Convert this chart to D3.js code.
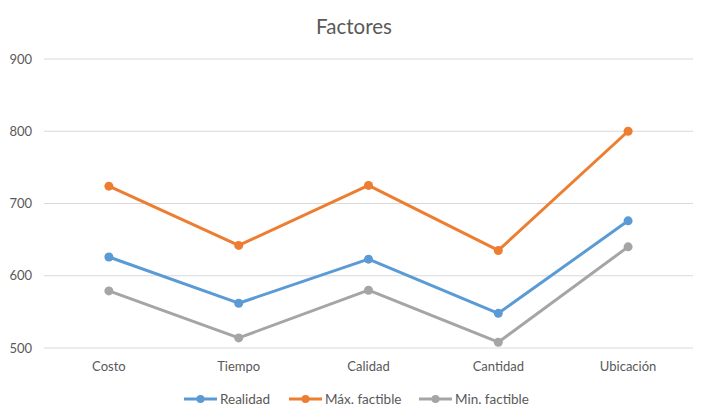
<!DOCTYPE html>
<html>
<head>
<meta charset="utf-8">
<script src="https://cdn.jsdelivr.net/npm/d3@7"></script>
<style>
  body { margin: 0; background: #fff; }
  svg { font-family: Lato, "Open Sans", sans-serif; }
</style>
</head>
<body>
<div id="chart"></div>
<script>
// data
const categories = ["Costo", "Tiempo", "Calidad", "Cantidad", "Ubicación"];
const realidad = [626, 562, 623, 548, 676];
const maxFactible = [724, 642, 725, 635, 800];
const minFactible = [579, 514, 580, 508, 640];
const yTicks = [500, 600, 700, 800, 900];

const series = [
    { name: "Realidad", values: realidad, color: "#5B9BD5" },
    { name: "Máx. factible", values: maxFactible, color: "#ED7D31" },
    { name: "Min. factible", values: minFactible, color: "#A5A5A5" }
];

const W = 708, H = 420;
const margin = { top: 59, right: 15, bottom: 72, left: 44 };
const width = W - margin.left - margin.right;
const height = H - margin.top - margin.bottom;

const root = d3.select("#chart").append("svg")
    .attr("width", W)
    .attr("height", H);

const svg = root.append("g")
    .attr("transform", `translate(${margin.left},${margin.top})`);

// scales
const x = d3.scaleBand().domain(categories).range([0, width]);
const y = d3.scaleLinear().domain([500, 900]).range([height, 0]);

// gridlines
svg.selectAll(".grid")
    .data(yTicks)
    .enter()
    .append("line")
    .attr("x1", 0)
    .attr("x2", width)
    .attr("y1", d => y(d))
    .attr("y2", d => y(d))
    .attr("stroke", "#D9D9D9")
    .attr("stroke-width", 1);

// y labels
svg.selectAll(".ylab")
    .data(yTicks)
    .enter()
    .append("text")
    .attr("x", -12)
    .attr("y", d => y(d))
    .attr("dy", "0.35em")
    .attr("text-anchor", "end")
    .style("font-size", "13px")
    .style("fill", "#595959")
    .text(d => d);

// x labels
svg.selectAll(".xlab")
    .data(categories)
    .enter()
    .append("text")
    .attr("x", d => x(d) + x.bandwidth() / 2)
    .attr("y", height + 23)
    .attr("text-anchor", "middle")
    .style("font-size", "13px")
    .style("fill", "#595959")
    .text(d => d);

// lines and markers
const line = d3.line()
    .x((d, i) => x(categories[i]) + x.bandwidth() / 2)
    .y(d => y(d));

series.forEach(s => {
    svg.append("path")
        .datum(s.values)
        .attr("fill", "none")
        .attr("stroke", s.color)
        .attr("stroke-width", 3)
        .attr("stroke-linejoin", "round")
        .attr("d", line);

    svg.selectAll(null)
        .data(s.values)
        .enter()
        .append("circle")
        .attr("cx", (d, i) => x(categories[i]) + x.bandwidth() / 2)
        .attr("cy", d => y(d))
        .attr("r", 4.5)
        .attr("fill", s.color);
});

// title
root.append("text")
    .attr("x", W / 2)
    .attr("y", 34)
    .attr("text-anchor", "middle")
    .style("font-size", "20.5px")
    .style("fill", "#595959")
    .text("Factores");

// legend
const legendX = [184, 289, 419];
const legend = root.selectAll(".legend")
    .data(series)
    .enter()
    .append("g")
    .attr("transform", (d, i) => `translate(${legendX[i]},399)`);

legend.append("line")
    .attr("x1", 0).attr("x2", 33)
    .attr("y1", 0).attr("y2", 0)
    .attr("stroke", d => d.color)
    .attr("stroke-width", 3);

legend.append("circle")
    .attr("cx", 16.5).attr("cy", 0).attr("r", 4)
    .attr("fill", d => d.color);

legend.append("text")
    .attr("x", 36)
    .attr("y", 0)
    .attr("dy", "0.35em")
    .style("font-size", "13.5px")
    .style("fill", "#595959")
    .text(d => d.name);
</script>
</body>
</html>
